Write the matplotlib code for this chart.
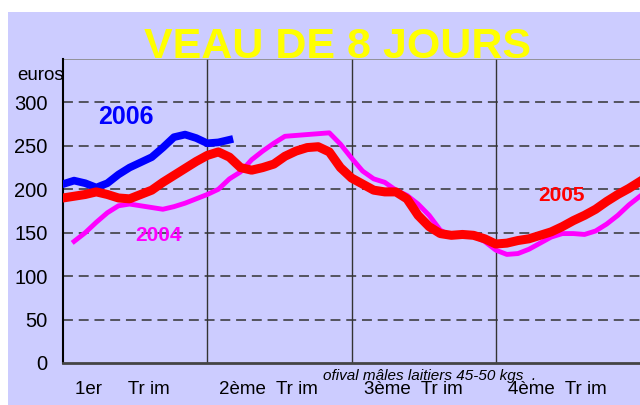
import matplotlib
matplotlib.use("Agg")
import matplotlib.pyplot as plt
from matplotlib.patches import Rectangle

# weekly prices (euros)
weeks_2006 = list(range(0, 16))
prix_2006 = [206, 210, 207, 202, 207, 217, 225, 231, 237, 248, 260, 263, 259, 253, 254, 257]

weeks_2005 = list(range(0, 53))
prix_2005 = [190, 192, 194, 197, 194, 190, 189, 194, 199, 208,
             216, 224, 232, 239, 243, 237, 225, 222, 225, 229,
             238, 244, 248, 249, 243, 225, 213, 206, 199, 197,
             197, 189, 170, 157, 149, 147, 148, 147, 143, 137,
             138, 141, 143, 147, 151, 157, 164, 170, 177, 186,
             194, 201, 209]

weeks_2004 = list(range(1, 53))
prix_2004 = [140, 150, 162, 173, 181, 183, 181, 179, 177,
             180, 184, 189, 194, 200, 212, 220, 234, 244, 253,
             261, 262, 263, 264, 265, 252, 236, 221, 212, 208,
             199, 193, 183, 170, 153, 146, 147, 146, 140, 130,
             125, 126, 131, 138, 145, 149, 149, 148, 152, 160,
             170, 182, 192]

quarter_labels = ["1er     Tr im", "2ème  Tr im", "3ème  Tr im", "4ème  Tr im"]
y_ticks = [0, 50, 100, 150, 200, 250, 300]

BG = "#CCCCFF"
FONT = "Liberation Sans"

fig = plt.figure(figsize=(6.4, 4.05), dpi=100)
fig.patch.set_facecolor(BG)
# white strips along the top and left edges
fig.patches.append(Rectangle((0, 393 / 405), 1, 12 / 405, transform=fig.transFigure,
                             facecolor="white", edgecolor="none", zorder=-5))
fig.patches.append(Rectangle((0, 0), 8 / 640, 1, transform=fig.transFigure,
                             facecolor="white", edgecolor="none", zorder=-5))

ax = fig.add_axes([63 / 640, 42 / 405, 577 / 640, 304 / 405])
ax.set_facecolor(BG)
ax.set_xlim(0, 52)
ax.set_ylim(0, 350)

for y in y_ticks[1:]:
    ax.axhline(y, color="#333333", lw=1.1, ls=(0, (6.5, 3.8)), zorder=1)
for q in (13, 26, 39):
    ax.axvline(q, color="#333333", lw=1.0, zorder=1)
ax.axhline(350, color="#888888", lw=1.2, zorder=1)

ax.plot(weeks_2004, prix_2004, color="#FF00FF", lw=3.5, solid_joinstyle="round", zorder=3)
ax.plot(weeks_2006, prix_2006, color="#0000FF", lw=5.5, solid_joinstyle="round", zorder=4)
ax.plot(weeks_2005, prix_2005, color="#FF0000", lw=6.5, solid_joinstyle="round", zorder=5)

for side in ("top", "right"):
    ax.spines[side].set_visible(False)
ax.spines["left"].set_color("black")
ax.spines["left"].set_linewidth(1.5)
ax.spines["bottom"].set_color("#444444")
ax.spines["bottom"].set_linewidth(2)

ax.set_yticks(y_ticks)
ax.set_yticklabels([str(v) for v in y_ticks], fontsize=14.5, family=FONT)
ax.tick_params(axis="y", length=0, pad=11)
ax.set_xticks([])

for i, lab in enumerate(quarter_labels):
    ax.text(13 * i + 1.1, -31, lab, fontsize=13.5, family=FONT, ha="left", va="center")

ax.text(-2.0, 331, "euros", fontsize=13.5, family=FONT, ha="center", va="center")
ax.text(23.4, -15.5, "ofival mâles laitiers 45-50 kgs  .", fontsize=11, style="italic",
        family=FONT, ha="left", va="center")

ax.text(5.7, 283, "2006", color="#0000FF", fontsize=18, fontweight="bold",
        family=FONT, ha="center", va="center")
ax.text(8.6, 147, "2004", color="#FF00FF", fontsize=15, fontweight="bold",
        family=FONT, ha="center", va="center")
ax.text(44.9, 193, "2005", color="#FF0000", fontsize=15, fontweight="bold",
        family=FONT, ha="center", va="center")

fig.text(337 / 640, 1 - 47 / 405, "VEAU DE 8 JOURS", color="#FFFF00", fontsize=31,
         fontweight="bold", family=FONT, ha="center", va="center", zorder=10)

fig.savefig("out.png", dpi=100, facecolor=fig.get_facecolor())
